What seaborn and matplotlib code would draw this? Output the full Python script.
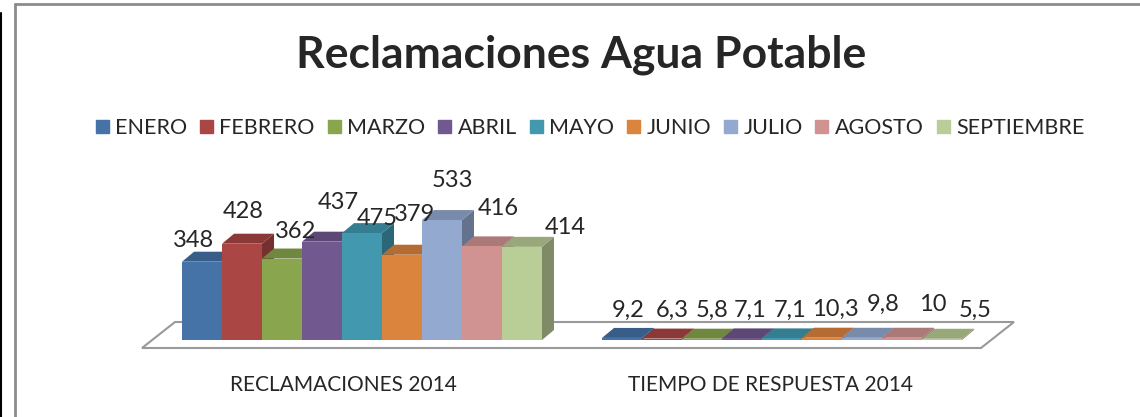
import matplotlib
matplotlib.use("Agg")
import matplotlib.pyplot as plt
import seaborn as sns
import pandas as pd
import numpy as np
from matplotlib.patches import Polygon, Patch
from matplotlib.lines import Line2D
from matplotlib.colors import to_rgb
from matplotlib.transforms import ScaledTranslation

# -------------------------------
# Data
# -------------------------------
months = ["ENERO", "FEBRERO", "MARZO", "ABRIL", "MAYO", "JUNIO",
          "JULIO", "AGOSTO", "SEPTIEMBRE"]
categories = ["RECLAMACIONES 2014", "TIEMPO DE RESPUESTA 2014"]
reclamaciones = [348, 428, 362, 437, 475, 379, 533, 416, 414]
tiempo_respuesta = [9.2, 6.3, 5.8, 7.1, 7.1, 10.3, 9.8, 10, 5.5]

colors = ["#4572A7", "#AA4643", "#89A54E", "#71588F", "#4198AF",
          "#DB843D", "#93A9CF", "#D19392", "#B9CD96"]

# label offsets (pixels) from the front top centre of each bar, like excel puts them
label_dx = [[-9, 1, 14, 16, 15, 13, 10, 16, 43],
            [6, 10, 10, 8, 8, 13, 21, 31, 33]]
label_dy = [[21, 32, 27, 39, 15, 40, 40, 38, 19],
            [28, 28, 28, 28, 28, 28, 33, 33, 28]]

df = pd.DataFrame({
    "categoria": [categories[0]] * len(months) + [categories[1]] * len(months),
    "mes": months * 2,
    "valor": reclamaciones + tiempo_respuesta,
})

sns.set_style("white")
plt.rcParams["font.family"] = ["Lato", "DejaVu Sans"]

W, H = 1140, 417
fig = plt.figure(figsize=(W / 100, H / 100), dpi=100)
ax = fig.add_axes([110 / W, (H - 360) / H, 945 / W, 220 / H])

sns.barplot(data=df, x="categoria", y="valor", hue="mes", hue_order=months,
            palette=colors, width=0.857, saturation=1, errorbar=None,
            legend=False, linewidth=0, ax=ax)

ax.set_xlim(-0.6, 1.65)
ax.set_ylim(-20 / 0.225, 200 / 0.225)
for s in ax.spines.values():
    s.set_visible(False)
ax.set_yticks([])
ax.set_xlabel("")
ax.set_ylabel("")
ax.tick_params(axis="x", length=0, pad=11, labelsize=15)
for lbl, shift in zip(ax.get_xticklabels(), [-19, -12]):
    lbl.set_transform(lbl.get_transform() + ScaledTranslation(shift / 100, 0, fig.dpi_scale_trans))

# pixel -> data helpers
x_per_px = (1.65 + 0.6) / 945
y_per_px = (220 / 0.225) / 220
dx, dy = 12 * x_per_px, 10 * y_per_px


def darker(c, f):
    r, g, b = to_rgb(c)
    return (r * f, g * f, b * f)


# fake 3D: top + side faces for every bar
for k, cont in enumerate(ax.containers):
    col = colors[k]
    for j, bar in enumerate(cont):
        x0 = bar.get_x()
        w = bar.get_width()
        h = bar.get_height()
        bar.set_zorder(3 + 2 * k)
        side = Polygon([(x0 + w, 0), (x0 + w + dx, dy), (x0 + w + dx, h + dy), (x0 + w, h)],
                       closed=True, color=darker(col, 0.68), lw=0, zorder=2 + 2 * k)
        top = Polygon([(x0, h), (x0 + w, h), (x0 + w + dx, h + dy), (x0 + dx, h + dy)],
                      closed=True, color=darker(col, 0.82), lw=0, zorder=2 + 2 * k)
        ax.add_patch(side)
        ax.add_patch(top)

        val = reclamaciones[k] if j == 0 else tiempo_respuesta[k]
        txt = f"{val:g}".replace(".", ",")
        ax.annotate(txt, xy=(x0 + w / 2, h), xytext=(label_dx[j][k], label_dy[j][k]),
                    textcoords="offset pixels", ha="center", va="center",
                    fontsize=17, zorder=30)

# one floor under both groups
all_bars = [b for cont in ax.containers for b in cont]
xl = min(b.get_x() for b in all_bars)
xr = max(b.get_x() + b.get_width() for b in all_bars)
floor = Polygon([(xl - 40 * x_per_px, -8 * y_per_px),
                 (xr + 19 * x_per_px, -8 * y_per_px),
                 (xr + 52 * x_per_px, 18 * y_per_px),
                 (xl - 7 * x_per_px, 18 * y_per_px)],
                closed=True, facecolor="white", edgecolor="#999999", lw=1.5, zorder=1)
ax.add_patch(floor)

# title + legend
fig.text(581 / W, 1 - 55 / H, "Reclamaciones Agua Potable", ha="center", va="center",
         fontsize=32, fontweight="bold")
handles = [Patch(color=c, label=m) for c, m in zip(colors, months)]
fig.legend(handles=handles, loc="center", bbox_to_anchor=(590 / W, 1 - 128 / H), ncol=9,
           frameon=False, fontsize=15.5, handlelength=0.6, handleheight=0.6,
           handletextpad=0.3, columnspacing=0.6, borderaxespad=0)

# chart frame lines
fig.add_artist(Line2D([15 / W, 1], [1 - 4 / H, 1 - 4 / H], color="#8C8C8C", lw=2))
fig.add_artist(Line2D([15 / W, 15 / W], [0, 1 - 4 / H], color="#8C8C8C", lw=2))
fig.add_artist(Line2D([1 / W, 1 / W], [0, 1 - 13 / H], color="black", lw=1.5))

fig.savefig("out.png", dpi=100)
